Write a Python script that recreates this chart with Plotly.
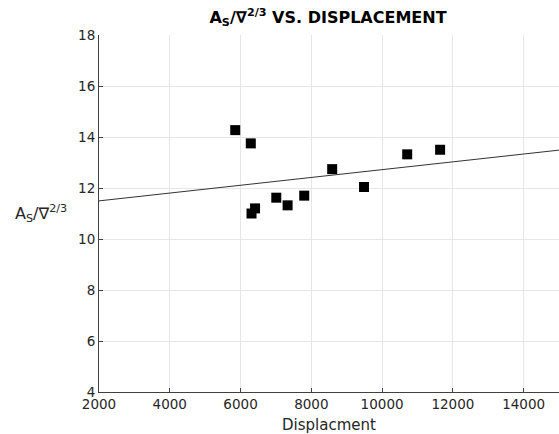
import numpy as np
import plotly.graph_objects as go

displacement = [5850, 6290, 6410, 6310, 7010, 7330, 7800, 8590, 9490, 10710, 11640]
as_ratio = [14.27, 13.75, 11.2, 11.0, 11.62, 11.32, 11.7, 12.74, 12.04, 13.32, 13.5]
x_range = [2000, 15000]
y_range = [4, 18]
x_ticks = [2000, 4000, 6000, 8000, 10000, 12000, 14000]
x_ticklabels = ["2000", "4000", "6000", "8000", "10000", "12000", "14000"]
y_ticks = [4, 6, 8, 10, 12, 14, 16, 18]

slope, intercept = np.polyfit(displacement, as_ratio, 1)
fit_x = np.array(x_range, dtype=float)
fit_y = slope * fit_x + intercept

font = "DejaVu Sans"
txt = "#262626"
axis_col = "#404040"

fig = go.Figure()
fig.add_trace(go.Scatter(x=fit_x, y=fit_y, mode="lines",
                         line=dict(color="#333333", width=1), hoverinfo="skip"))
fig.add_trace(go.Scatter(x=displacement, y=as_ratio, mode="markers",
                         marker=dict(symbol="square", size=10, color="black")))

fig.update_layout(
    width=559, height=434,
    margin=dict(l=99, r=0, t=35, b=42, autoexpand=False),
    paper_bgcolor="white", plot_bgcolor="white",
    showlegend=False,
    font=dict(family=font, color=txt, size=13.5),
    title=dict(text="<b>A<sub>S</sub>/∇<sup>2/3</sup> VS. DISPLACEMENT</b>",
               x=328 / 559, xanchor="center", y=1 - 17 / 434, yanchor="middle",
               xref="container", yref="container", automargin=False,
               font=dict(family=font, size=16, color="black")),
    xaxis=dict(range=x_range, tickvals=x_ticks, ticktext=x_ticklabels,
               showgrid=True, gridcolor="#e6e6e6", automargin=False,
               showline=True, linecolor=axis_col, linewidth=1, ticks="inside",
               ticklen=4, tickcolor=axis_col, zeroline=False,
               title=dict(text="Displacment", font=dict(size=15), standoff=8)),
    yaxis=dict(range=y_range, tickvals=y_ticks, showgrid=True, gridcolor="#e6e6e6",
               automargin=False,
               showline=True, linecolor=axis_col, linewidth=1, ticks="inside",
               ticklen=4, tickcolor=axis_col, zeroline=False),
    annotations=[dict(text="A<sub>S</sub>/∇<sup>2/3</sup>", xref="paper", yref="paper",
                      x=(41 - 99) / 460, y=(392 - 213) / 357, xanchor="center",
                      yanchor="middle", showarrow=False,
                      font=dict(size=16, color=txt))],
)

fig.write_html("out.html", config={"displayModeBar": False},
               post_script="document.body.style.margin='0';")
